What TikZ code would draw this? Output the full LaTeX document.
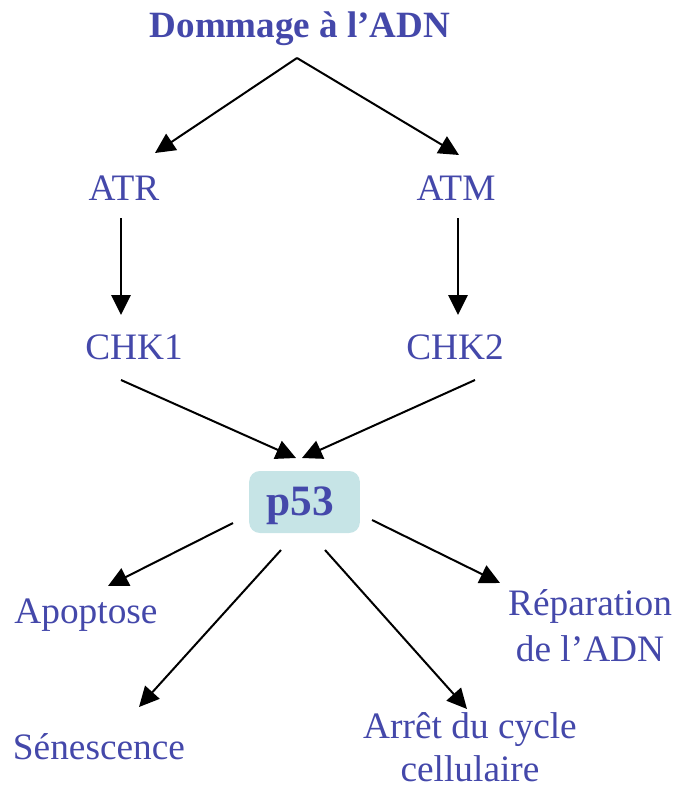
\documentclass[tikz,border=0pt]{standalone}
\usepackage{fontspec}
\setmainfont{Liberation Serif}
\usetikzlibrary{arrows.meta}
\definecolor{lbl}{RGB}{68,72,170}
\definecolor{boxfill}{RGB}{198,228,230}
\begin{document}
\begin{tikzpicture}[x=0.75pt,y=-0.75pt,
  lab/.style={text=lbl,font=\fontsize{28}{34}\selectfont,anchor=base,inner sep=0pt,align=center},
  arr/.style={line width=1.5pt,-{Triangle[length=15pt,width=14.5pt]}}]
\useasboundingbox (0,0) rectangle (675,789);
% labels
\node[lab,font=\fontsize{27.8}{32}\selectfont\bfseries] (dmg) at (300,37) {Dommage à l’ADN};
\node[lab] (atr) at (124,200) {ATR};
\node[lab] (atm) at (456,200) {ATM};
\node[lab] (chk1) at (134,359) {CHK1};
\node[lab] (chk2) at (455,359) {CHK2};
\node[lab] (apo) at (86,623) {Apoptose};
\node[lab] (sen) at (99,759) {Sénescence};
\node[lab,font=\fontsize{28}{32.5}\selectfont,anchor=north] (arret) at (470,712) {Arrêt du cycle\\cellulaire};
\node[lab,font=\fontsize{28}{35}\selectfont,anchor=north] (rep) at (590,589) {Réparation\\de l’ADN};
% p53 box
\node[fill=boxfill,rounded corners=8pt,minimum width=83pt,minimum height=46.5pt,inner sep=0pt] (p53) at (304.5,502) {};
\node[text=lbl,font=\fontsize{32.5}{36}\selectfont\bfseries,inner sep=0pt,anchor=base] (p53t) at (300.5,515) {p53};
% connector end points
\coordinate (dmg-o) at (297,58);
\coordinate (atr-i) at (155,153);
\coordinate (atm-i) at (459,155);
\coordinate (atr-o) at (121,218);
\coordinate (chk1-i) at (121,315);
\coordinate (atm-o) at (458,218);
\coordinate (chk2-i) at (458,315);
\coordinate (chk1-o) at (121,380);
\coordinate (chk2-o) at (475,380);
\coordinate (p53-il) at (296,458);
\coordinate (p53-ir) at (302,458);
\coordinate (p53-ol) at (233,523);
\coordinate (apo-i) at (108,586);
\coordinate (p53-osl) at (281,550);
\coordinate (sen-i) at (139,707);
\coordinate (p53-osr) at (325,550);
\coordinate (arret-i) at (467,709);
\coordinate (p53-or) at (372,520);
\coordinate (rep-i) at (500,583);
% connectors
\draw[arr] (dmg-o) -- (atr-i);
\draw[arr] (dmg-o) -- (atm-i);
\draw[arr] (atr-o) -- (chk1-i);
\draw[arr] (atm-o) -- (chk2-i);
\draw[arr] (chk1-o) -- (p53-il);
\draw[arr] (chk2-o) -- (p53-ir);
\draw[arr] (p53-ol) -- (apo-i);
\draw[arr] (p53-osl) -- (sen-i);
\draw[arr] (p53-osr) -- (arret-i);
\draw[arr] (p53-or) -- (rep-i);
\end{tikzpicture}
\end{document}
